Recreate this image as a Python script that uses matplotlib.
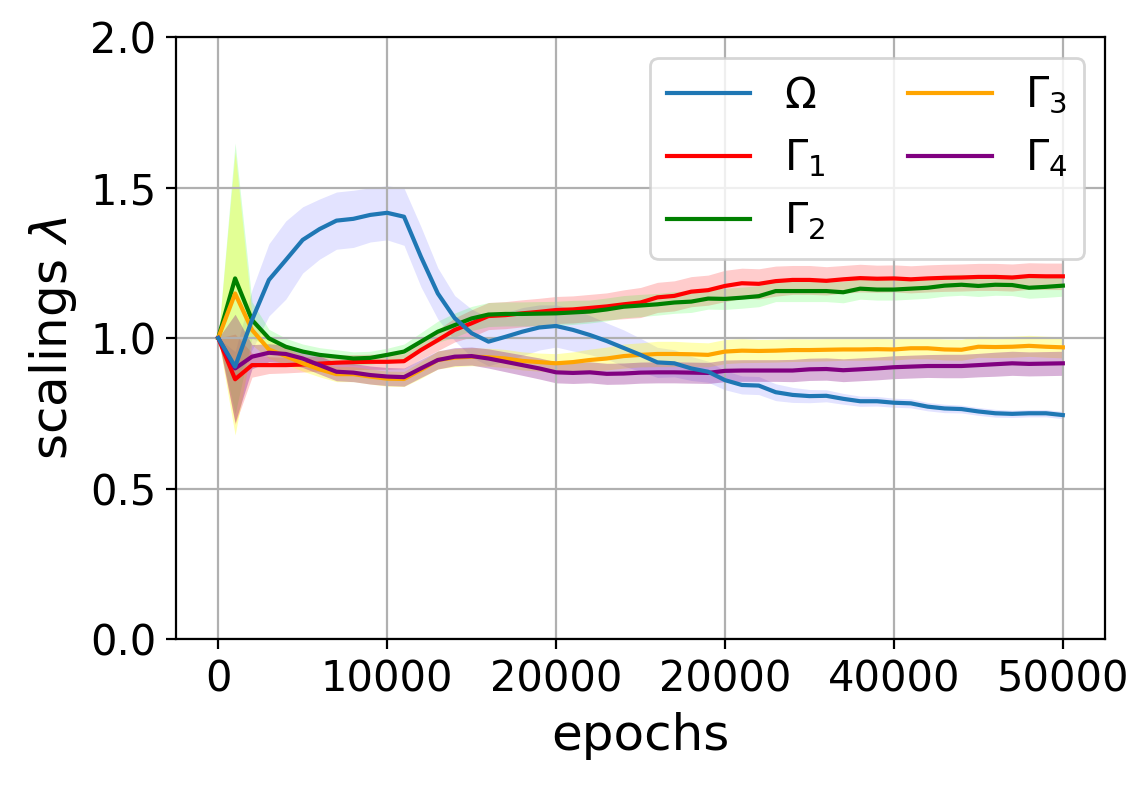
import matplotlib
matplotlib.use("Agg")
import matplotlib.pyplot as plt
import numpy as np

epochs = list(range(0, 50001, 1000))
xtick_values = [0, 10000, 20000, 30000, 40000, 50000]
xtick_labels = ["0", "10000", "20000", "20000", "40000", "50000"]
ytick_values = [0.0, 0.5, 1.0, 1.5, 2.0]

omega = [1.0, 0.905, 1.06, 1.193, 1.259, 1.326, 1.362, 1.390, 1.396, 1.409, 1.416,
         1.403, 1.27, 1.148, 1.066, 1.016, 0.988, 1.004, 1.021, 1.035, 1.040,
         1.027, 1.010, 0.99, 0.967, 0.944, 0.919, 0.916, 0.899, 0.888, 0.860,
         0.844, 0.842, 0.820, 0.811, 0.807, 0.808, 0.798, 0.790, 0.790, 0.785,
         0.783, 0.772, 0.766, 0.764, 0.756, 0.750, 0.748, 0.750, 0.750, 0.744]
omega_std = [0, 0.05, 0.10, 0.12, 0.13, 0.11, 0.10, 0.095, 0.095, 0.09, 0.09,
             0.095, 0.10, 0.085, 0.075, 0.08, 0.08, 0.08, 0.08, 0.075, 0.07,
             0.07, 0.065, 0.06, 0.06, 0.055, 0.05, 0.045, 0.04, 0.035, 0.032,
             0.03, 0.03, 0.028, 0.025, 0.022, 0.02, 0.018, 0.017, 0.016, 0.015,
             0.015, 0.014, 0.014, 0.013, 0.013, 0.013, 0.012, 0.012, 0.012, 0.012]

gamma1 = [1.0, 0.863, 0.910, 0.910, 0.910, 0.912, 0.915, 0.918, 0.920, 0.921, 0.921,
          0.923, 0.960, 0.993, 1.027, 1.049, 1.073, 1.076, 1.082, 1.087, 1.093,
          1.095, 1.100, 1.105, 1.112, 1.118, 1.135, 1.140, 1.154, 1.159, 1.173,
          1.182, 1.180, 1.189, 1.193, 1.193, 1.190, 1.195, 1.199, 1.197, 1.198,
          1.195, 1.198, 1.200, 1.201, 1.203, 1.203, 1.201, 1.206, 1.205, 1.205]
gamma1_std = [0, 0.15, 0.04, 0.028, 0.026, 0.025, 0.025, 0.025, 0.025, 0.025, 0.025,
              0.025, 0.03, 0.035, 0.04, 0.045, 0.045, 0.045, 0.045, 0.045, 0.045,
              0.045, 0.045, 0.045, 0.048, 0.05, 0.05, 0.05, 0.05, 0.05, 0.052,
              0.05, 0.05, 0.05, 0.048, 0.048, 0.047, 0.046, 0.046, 0.045, 0.045,
              0.045, 0.045, 0.045, 0.045, 0.045, 0.045, 0.045, 0.044, 0.044, 0.044]

gamma2 = [1.0, 1.198, 1.06, 0.999, 0.971, 0.955, 0.944, 0.938, 0.932, 0.934, 0.944,
          0.955, 0.988, 1.021, 1.043, 1.065, 1.078, 1.080, 1.080, 1.081, 1.082,
          1.085, 1.088, 1.095, 1.104, 1.108, 1.112, 1.118, 1.121, 1.131, 1.130,
          1.134, 1.139, 1.156, 1.156, 1.156, 1.156, 1.152, 1.164, 1.161, 1.161,
          1.164, 1.167, 1.174, 1.177, 1.173, 1.177, 1.176, 1.167, 1.170, 1.174]
gamma2_std = [0, 0.45, 0.06, 0.03, 0.028, 0.025, 0.024, 0.023, 0.022, 0.022, 0.022,
              0.025, 0.03, 0.035, 0.04, 0.04, 0.04, 0.04, 0.04, 0.04, 0.04,
              0.04, 0.038, 0.038, 0.037, 0.037, 0.036, 0.036, 0.036, 0.035, 0.035,
              0.035, 0.035, 0.035, 0.035, 0.035, 0.035, 0.035, 0.035, 0.035, 0.035,
              0.035, 0.035, 0.035, 0.035, 0.035, 0.035, 0.035, 0.035, 0.035, 0.035]

gamma3 = [1.0, 1.148, 1.027, 0.962, 0.940, 0.916, 0.896, 0.880, 0.880, 0.872, 0.865,
          0.864, 0.894, 0.927, 0.935, 0.938, 0.936, 0.932, 0.924, 0.920, 0.916,
          0.920, 0.927, 0.932, 0.940, 0.944, 0.947, 0.947, 0.946, 0.944, 0.955,
          0.958, 0.957, 0.958, 0.960, 0.960, 0.961, 0.962, 0.962, 0.963, 0.962,
          0.966, 0.966, 0.962, 0.961, 0.971, 0.970, 0.971, 0.974, 0.971, 0.969]
gamma3_std = [0, 0.47, 0.05, 0.03, 0.028, 0.026, 0.025, 0.025, 0.025, 0.025, 0.025,
              0.025, 0.028, 0.03, 0.03, 0.03, 0.03, 0.03, 0.03, 0.03, 0.032,
              0.034, 0.036, 0.038, 0.04, 0.04, 0.042, 0.042, 0.04, 0.04, 0.04,
              0.04, 0.038, 0.038, 0.038, 0.037, 0.037, 0.036, 0.036, 0.036, 0.035,
              0.035, 0.035, 0.035, 0.035, 0.035, 0.035, 0.035, 0.035, 0.035, 0.035]

gamma4 = [1.0, 0.899, 0.938, 0.951, 0.947, 0.932, 0.910, 0.888, 0.885, 0.877, 0.872,
          0.870, 0.899, 0.927, 0.938, 0.940, 0.932, 0.921, 0.910, 0.899, 0.886,
          0.884, 0.886, 0.881, 0.882, 0.885, 0.886, 0.886, 0.885, 0.884, 0.891,
          0.892, 0.892, 0.892, 0.892, 0.896, 0.897, 0.893, 0.896, 0.899, 0.903,
          0.905, 0.907, 0.907, 0.907, 0.910, 0.913, 0.916, 0.914, 0.915, 0.916]
gamma4_std = [0, 0.18, 0.04, 0.03, 0.03, 0.03, 0.03, 0.03, 0.03, 0.03, 0.03,
              0.03, 0.03, 0.03, 0.03, 0.03, 0.032, 0.033, 0.034, 0.035, 0.035,
              0.035, 0.035, 0.035, 0.035, 0.035, 0.035, 0.035, 0.035, 0.035, 0.036,
              0.036, 0.036, 0.036, 0.037, 0.037, 0.037, 0.038, 0.038, 0.038, 0.038,
              0.038, 0.038, 0.039, 0.039, 0.039, 0.04, 0.04, 0.04, 0.04, 0.04]

series = [
    (r"$\Omega$", omega, omega_std, "tab:blue", "blue", 0.11),
    (r"$\Gamma_1$", gamma1, gamma1_std, "red", "red", 0.2),
    (r"$\Gamma_2$", gamma2, gamma2_std, "green", "lime", 0.16),
    (r"$\Gamma_3$", gamma3, gamma3_std, "orange", "yellow", 0.3),
    (r"$\Gamma_4$", gamma4, gamma4_std, "purple", "purple", 0.3),
]

fig = plt.figure(figsize=(5.74, 3.93), dpi=200)
ax = fig.add_axes([0.1533, 0.187, 0.9626 - 0.1533, 0.9529 - 0.187])

x = np.array(epochs)
for i, (label, mean, std, lc, fc, alpha) in enumerate(series):
    m = np.array(mean)
    s = np.array(std)
    ax.fill_between(x, m - s, m + s, color=fc, alpha=alpha, linewidth=0, zorder=1)
for i, (label, mean, std, lc, fc, alpha) in enumerate(series):
    ax.plot(x, mean, color=lc, linewidth=1.5, label=label,
            zorder=4 if i == 0 else 3)

ax.set_ylim(0, 2.0)
ax.set_yticks(ytick_values)
ax.set_xticks(xtick_values)
ax.set_xticklabels(xtick_labels)
ax.tick_params(labelsize=15)
ax.grid(True)
ax.set_xlabel("epochs", fontsize=18)
ax.set_ylabel(r"scalings $\lambda$", fontsize=18)
ax.legend(loc="upper right", ncol=2, fontsize=15)

fig.savefig("out.png", dpi=200)
